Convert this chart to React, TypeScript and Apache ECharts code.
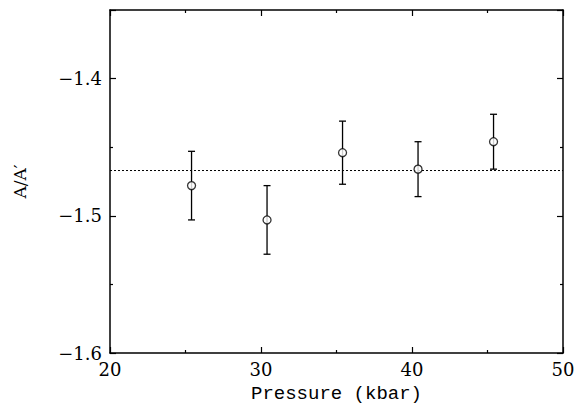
import React, { useEffect, useRef } from "react";
import * as echarts from "echarts";

const pressure = [25.4, 30.4, 35.4, 40.4, 45.4];
const ratio = [-1.478, -1.503, -1.454, -1.466, -1.446];
const errUp = [0.025, 0.025, 0.023, 0.020, 0.020];
const errDown = [0.025, 0.025, 0.023, 0.020, 0.020];
const meanLine = -1.467;
const xRange = [20, 50];

const FONT = "DejaVu Serif";
const TITLE_FONT = "Liberation Mono";

export default function App() {
  const ref = useRef<HTMLDivElement>(null);
  useEffect(() => {
    if (!ref.current) return;
    const chart = echarts.init(ref.current, null, { renderer: "svg" });
    const axisLine = { show: true, lineStyle: { color: "#000", width: 1.5 } };
    const tick = { show: true, inside: true, length: 6, lineStyle: { color: "#000", width: 1.2 } };
    const minor = { show: true, splitNumber: 2, length: 3, lineStyle: { color: "#000", width: 1.2 } };
    const errData = pressure.map((p, i) => [p, ratio[i] - errDown[i], ratio[i] + errUp[i]]);
    chart.setOption({
      animation: false,
      backgroundColor: "#fff",
      grid: { left: 110, right: 15, top: 10, bottom: 55 },
      xAxis: [
        {
          type: "value", min: 20, max: 50, interval: 10, position: "bottom",
          axisLine, axisTick: tick, minorTick: minor, splitLine: { show: false },
          axisLabel: { color: "#000", fontFamily: FONT, fontSize: 18, margin: 7 },
          name: "Pressure (kbar)", nameLocation: "middle", nameGap: 31,
          nameTextStyle: { color: "#000", fontFamily: TITLE_FONT, fontSize: 19 },
        },
        {
          type: "value", min: 20, max: 50, interval: 10, position: "top",
          axisLine, axisTick: tick, minorTick: minor, splitLine: { show: false },
          axisLabel: { show: false },
        },
      ],
      yAxis: [
        {
          type: "value", min: -1.6, max: -1.35, interval: 0.1, position: "left",
          axisLine, axisTick: tick, minorTick: minor, splitLine: { show: false },
          axisLabel: {
            color: "#000", fontFamily: FONT, fontSize: 18, margin: 8,
            formatter: (v: number) => (Math.abs(v + 1.35) < 1e-6 ? "" : v.toFixed(1).replace("-", "\u2212")),
          },
          name: "A/A\u2032", nameLocation: "middle", nameGap: 82, nameRotate: 90,
          nameTextStyle: { color: "#000", fontFamily: FONT, fontSize: 17 },
        },
        {
          type: "value", min: -1.6, max: -1.35, interval: 0.1, position: "right",
          axisLine, axisTick: tick, minorTick: minor, splitLine: { show: false },
          axisLabel: { show: false },
        },
      ],
      series: [
        {
          type: "line",
          data: [[xRange[0], meanLine], [xRange[1], meanLine]],
          symbol: "none",
          lineStyle: { color: "#000", width: 1, type: [2, 2] },
          z: 1,
        },
        {
          type: "custom",
          data: errData,
          renderItem: (_params: any, api: any) => {
            const x = api.value(0);
            const lo = api.coord([x, api.value(1)]);
            const hi = api.coord([x, api.value(2)]);
            const c = 3.5;
            const style = { stroke: "#000", lineWidth: 1.3 };
            return {
              type: "group",
              children: [
                { type: "line", shape: { x1: lo[0], y1: lo[1], x2: hi[0], y2: hi[1] }, style },
                { type: "line", shape: { x1: lo[0] - c, y1: lo[1], x2: lo[0] + c, y2: lo[1] }, style },
                { type: "line", shape: { x1: hi[0] - c, y1: hi[1], x2: hi[0] + c, y2: hi[1] }, style },
              ],
            };
          },
          z: 2,
        },
        {
          type: "scatter",
          data: pressure.map((p, i) => [p, ratio[i]]),
          symbol: "circle",
          symbolSize: 8,
          itemStyle: { color: "#fff", borderColor: "#000", borderWidth: 1.3 },
          z: 3,
        },
      ],
    });
    return () => chart.dispose();
  }, []);
  return (
    <div
      ref={ref}
      style={{ position: "fixed", left: 0, top: 0, width: 578, height: 408, background: "#fff" }}
    />
  );
}
